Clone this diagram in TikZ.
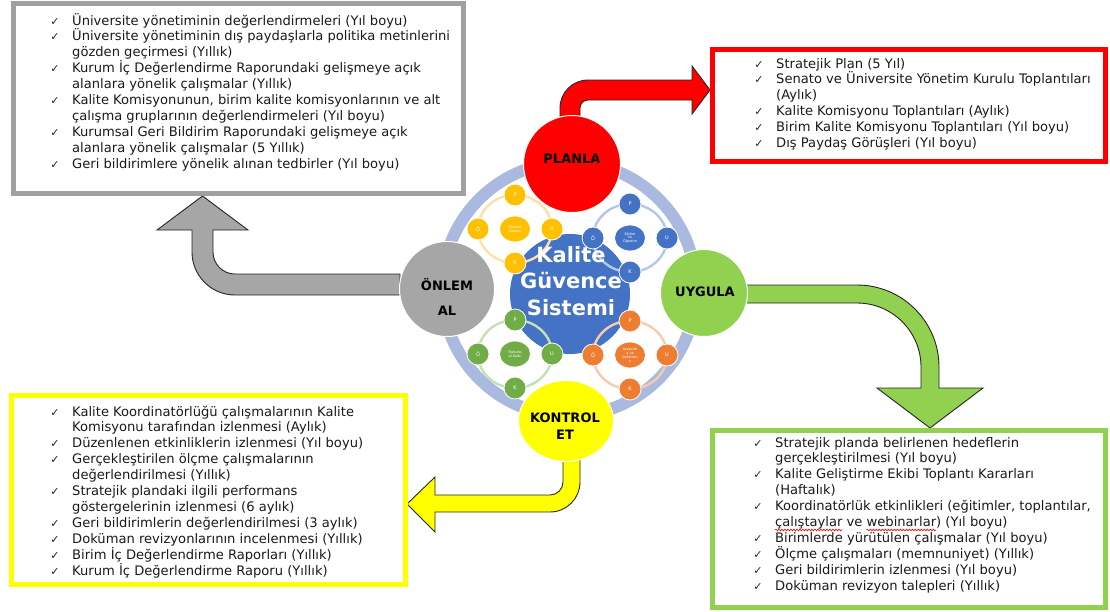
\documentclass[tikz,border=0pt]{standalone}
\usepackage{fontspec}
\setmainfont{DejaVu Sans}
\usetikzlibrary{shapes.geometric,decorations.pathmorphing}

\definecolor{planred}{HTML}{FF0000}
\definecolor{dogreen}{HTML}{92D050}
\definecolor{checkyellow}{HTML}{FFFF00}
\definecolor{actgray}{HTML}{A6A6A6}
\definecolor{boxgray}{HTML}{A0A0A0}
\definecolor{ringblue}{HTML}{AAB9E0}
\definecolor{coreblue}{HTML}{4472C4}
\definecolor{cycyellow}{HTML}{FFC000}
\definecolor{cycyellowring}{HTML}{FDE1AA}
\definecolor{cycblue}{HTML}{4472C4}
\definecolor{cycbluering}{HTML}{B4C7E7}
\definecolor{cycgreen}{HTML}{70AD47}
\definecolor{cycgreenring}{HTML}{C5E0B4}
\definecolor{cycorange}{HTML}{ED7D31}
\definecolor{cycorangering}{HTML}{F8CBAD}
\definecolor{listink}{HTML}{1A1A1A}

\newcommand\listfont{\fontsize{13.1}{15.9}\selectfont}
\newcommand\chk{\llap{{\fontsize{11}{11}\selectfont\color{black!85}✓}\hspace{12.5pt}}}

% widths used to place the red wavy marks under two words
\newlength\waveonelen
\newlength\wavetwooff
\newlength\wavetwolen
\settowidth\waveonelen{\listfont çalıştaylar}
\settowidth\wavetwooff{\listfont çalıştaylar ve }
\settowidth\wavetwolen{\listfont webinarlar}

% one list: name prefix, x, first baseline (px from top), lines
\newcommand\listlines[4]{%
  \foreach \lntxt [count=\i from 0] in {#4} {%
    \node[listline] (#1-\i) at (#2,{-#3-15.9*\i}) {\lntxt};
  }%
}

% one small P-U-K-Ö cycle: name, x, y (px from top), fill, ring colour, caption
\newcommand\cyclegroup[6]{%
  \draw[#5, line width=2.4] (#2,-#3) ellipse[x radius=37, y radius=34];
  \node[cyccore, fill=#4] (#1-core) at (#2,-#3) {#6};
  \node[cycdot, fill=#4] (#1-p) at (#2,{-#3+34}) {P};
  \node[cycdot, fill=#4] (#1-u) at ({#2+37},-#3) {U};
  \node[cycdot, fill=#4] (#1-k) at (#2,{-#3-34}) {K};
  \node[cycdot, fill=#4] (#1-o) at ({#2-37},-#3) {Ö};
}

\tikzset{
  listline/.style={anchor=base west, inner sep=0pt, font=\listfont, text=listink},
  boxframe/.style={rectangle, line width=5, inner sep=0pt},
  blockarrow/.style={draw=black!85, line width=0.9, line join=miter},
  phase/.style={circle, draw=white, line width=1, inner sep=0pt},
  phasetext/.style={inner sep=0pt, font=\fontsize{13}{17}\selectfont\bfseries, text=black},
  cyccore/.style={ellipse, draw=white, line width=0.8, minimum width=31, minimum height=26,
    inner sep=0pt, text=white, align=center, font=\fontsize{3.4}{3.9}\selectfont},
  cycdot/.style={circle, draw=white, line width=0.8, minimum size=22, inner sep=0pt,
    text=white, font=\fontsize{5}{5}\selectfont},
  coretext/.style={inner sep=0pt, align=center, text=white,
    font=\fontsize{21}{26.8}\selectfont\bfseries},
  spellmark/.style={red, line width=0.6, decorate,
    decoration={snake, amplitude=0.9pt, segment length=3pt}},
}

\begin{document}
\begin{tikzpicture}[x=1pt, y=1pt]
\useasboundingbox (0,0) rectangle (1110,-611);
\fill[white] (0,0) rectangle (1110,-611);

% ---- centre: ring, core circle and the four small cycles
\draw[ringblue, line width=12] (569,-289) circle[radius=127];
\node[circle, fill=coreblue, minimum size=120, inner sep=0pt] (core) at (570,-294) {};

\cyclegroup{yon}{515}{229}{cycyellow}{cycyellowring}{Yönetim\\Sistemi}
\cyclegroup{egt}{630}{238}{cycblue}{cycbluering}{Eğitim\\ve\\Öğretim}
\cyclegroup{top}{515}{354}{cycgreen}{cycgreenring}{Toplums\\al Katkı}
\cyclegroup{arg}{630}{355}{cycorange}{cycorangering}{Araştırm\\a ve\\Geliştirm\\e}

\node[coretext] (core-t) at (571,-281) {Kalite\\Güvence\\Sistemi};

% ---- block arrows from the phases to their lists
\path[blockarrow, fill=planred] (560,-130) -- (560,-108)
  arc[start angle=180, end angle=90, radius=28] -- (692,-80) -- (692,-66)
  -- (710,-90) -- (692,-114) -- (692,-100) -- (588,-100)
  arc[start angle=90, end angle=180, radius=8] -- (580,-130) -- cycle;

\path[blockarrow, fill=dogreen] (745,-285) -- (857,-285)
  arc[start angle=90, end angle=0, radius=82] -- (939,-388) -- (983,-388)
  -- (930,-428) -- (877,-388) -- (921,-388) -- (921,-367)
  arc[start angle=0, end angle=90, radius=64] -- (745,-303) -- cycle;

\path[blockarrow, fill=checkyellow] (563,-450) -- (580,-450) -- (580,-482)
  arc[start angle=0, end angle=-90, radius=30] -- (435,-512) -- (435,-532)
  -- (407,-504) -- (435,-477) -- (435,-495) -- (550,-495)
  arc[start angle=-90, end angle=0, radius=13] -- cycle;

\path[blockarrow, fill=actgray] (400,-274) -- (400,-295) -- (235,-295)
  arc[start angle=270, end angle=180, radius=43] -- (192,-230) -- (157,-230)
  -- (202.5,-196) -- (248,-230) -- (213,-230) -- (213,-252)
  arc[start angle=180, end angle=270, radius=22] -- cycle;

% ---- the four phases
\node[phase, fill=planred, minimum size=97] (plan) at (572,-164) {};
\node[phasetext] (plan-t) at (572,-159) {PLANLA};

\node[phase, fill=dogreen, minimum size=87] (do) at (704,-293) {};
\node[phasetext] (do-t) at (705,-292) {UYGULA};

\node[phase, fill=actgray, minimum size=95] (act) at (447,-289) {};
\node[phasetext] (act-t1) at (447,-285) {ÖNLEM};
\node[phasetext] (act-t2) at (447,-311) {AL};

\node[ellipse, draw=white, line width=1, inner sep=0pt, fill=checkyellow,
  minimum width=95, minimum height=81] (check) at (566,-421) {};
\node[phasetext] (check-t1) at (565,-418) {KONTROL};
\node[phasetext] (check-t2) at (565,-435) {ET};

% ---- list boxes
\node[boxframe, draw=boxgray, minimum width=449.5, minimum height=189.5] (actbox) at (238.25,-98.25) {};
\node[boxframe, draw=planred, minimum width=393, minimum height=111.5] (planbox) at (909,-105.25) {};
\node[boxframe, draw=checkyellow, minimum width=394.5, minimum height=189] (checkbox) at (208.25,-490) {};
\node[boxframe, draw=dogreen, minimum width=393, minimum height=177] (dobox) at (908.5,-518.5) {};

\listlines{actl}{72}{25}{
  {\chk Üniversite yönetiminin değerlendirmeleri (Yıl boyu)},
  {\chk Üniversite yönetiminin dış paydaşlarla politika metinlerini},
  {gözden geçirmesi (Yıllık)},
  {\chk Kurum İç Değerlendirme Raporundaki gelişmeye açık},
  {alanlara yönelik çalışmalar (Yıllık)},
  {\chk Kalite Komisyonunun, birim kalite komisyonlarının ve alt},
  {çalışma gruplarının değerlendirmeleri (Yıl boyu)},
  {\chk Kurumsal Geri Bildirim Raporundaki gelişmeye açık},
  {alanlara yönelik çalışmalar (5 Yıllık)},
  {\chk Geri bildirimlere yönelik alınan tedbirler (Yıl boyu)}}

\listlines{planl}{776}{68}{
  {\chk Stratejik Plan (5 Yıl)},
  {\chk Senato ve Üniversite Yönetim Kurulu Toplantıları},
  {(Aylık)},
  {\chk Kalite Komisyonu Toplantıları (Aylık)},
  {\chk Birim Kalite Komisyonu Toplantıları (Yıl boyu)},
  {\chk Dış Paydaş Görüşleri (Yıl boyu)}}

\listlines{checkl}{72}{416}{
  {\chk Kalite Koordinatörlüğü çalışmalarının Kalite},
  {Komisyonu tarafından izlenmesi (Aylık)},
  {\chk Düzenlenen etkinliklerin izlenmesi (Yıl boyu)},
  {\chk Gerçekleştirilen ölçme çalışmalarının},
  {değerlendirilmesi (Yıllık)},
  {\chk Stratejik plandaki ilgili performans},
  {göstergelerinin izlenmesi (6 aylık)},
  {\chk Geri bildirimlerin değerlendirilmesi (3 aylık)},
  {\chk Doküman revizyonlarının incelenmesi (Yıllık)},
  {\chk Birim İç Değerlendirme Raporları (Yıllık)},
  {\chk Kurum İç Değerlendirme Raporu (Yıllık)}}

\listlines{dol}{775}{447}{
  {\chk Stratejik planda belirlenen hedeflerin},
  {gerçekleştirilmesi (Yıl boyu)},
  {\chk Kalite Geliştirme Ekibi Toplantı Kararları},
  {(Haftalık)},
  {\chk Koordinatörlük etkinlikleri (eğitimler, toplantılar,},
  {çalıştaylar ve webinarlar) (Yıl boyu)},
  {\chk Birimlerde yürütülen çalışmalar (Yıl boyu)},
  {\chk Ölçme çalışmaları (memnuniyet) (Yıllık)},
  {\chk Geri bildirimlerin izlenmesi (Yıl boyu)},
  {\chk Doküman revizyon talepleri (Yıllık)}}

% red wavy marks under two words of the sixth line
\draw[spellmark] ([yshift=-3.5pt]dol-5.base west) -- ([xshift=\waveonelen, yshift=-3.5pt]dol-5.base west);
\draw[spellmark] ([xshift=\wavetwooff, yshift=-3.5pt]dol-5.base west)
  -- ([xshift=\wavetwooff+\wavetwolen, yshift=-3.5pt]dol-5.base west);

\end{tikzpicture}
\end{document}
